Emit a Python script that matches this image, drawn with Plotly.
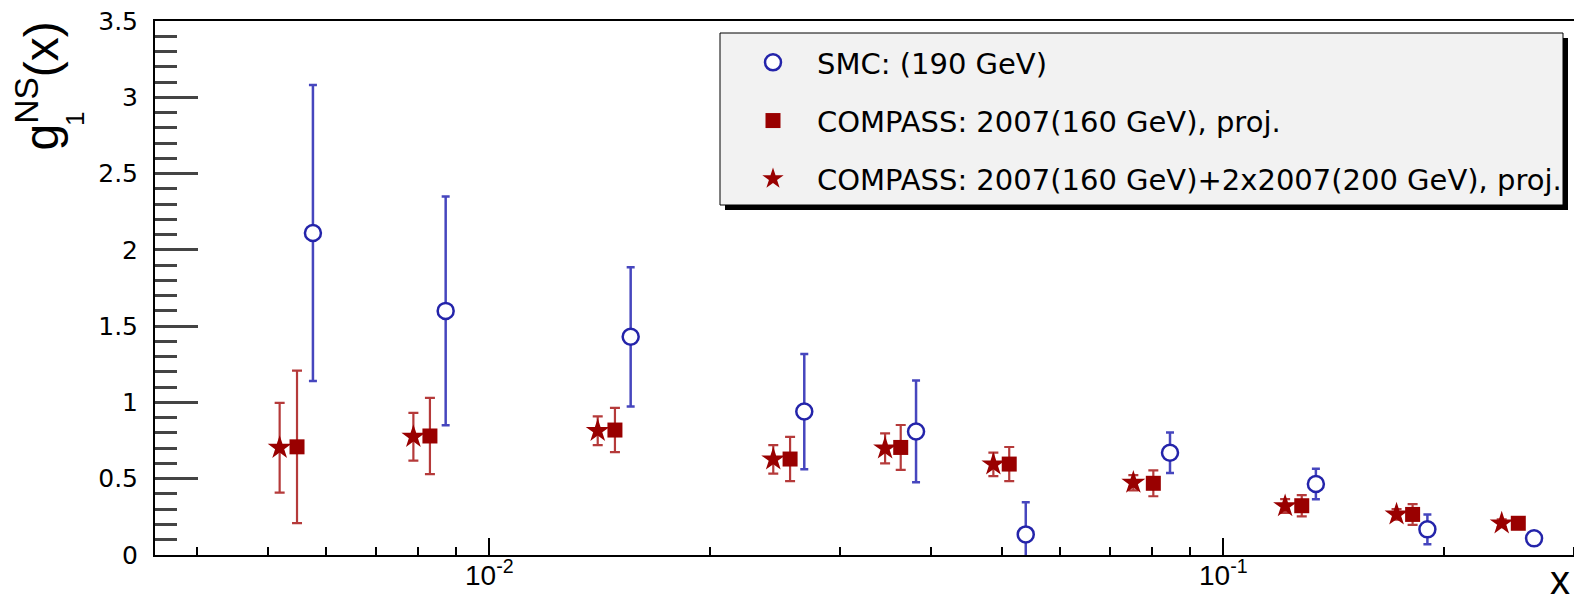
import plotly.graph_objects as go

# ---------------- data ----------------
smc_x = [0.00575, 0.00872, 0.01558, 0.02686, 0.03814, 0.05381, 0.0846, 0.1337, 0.1897, 0.2651]
smc_y = [2.11, 1.60, 1.43, 0.94, 0.81, 0.135, 0.67, 0.465, 0.168, 0.109]
smc_err = [0.97, 0.75, 0.456, 0.378, 0.333, 0.21, 0.133, 0.10, 0.098, 0.02]

c160_x = [0.00547, 0.0083, 0.01483, 0.02569, 0.03635, 0.05109, 0.08029, 0.1279, 0.1811, 0.2523]
c160_y = [0.709, 0.78, 0.819, 0.629, 0.705, 0.596, 0.47, 0.323, 0.266, 0.208]
c160_err = [0.50, 0.25, 0.145, 0.145, 0.147, 0.112, 0.085, 0.07, 0.068, 0.035]

comb_x = [0.00518, 0.00788, 0.01405, 0.02437, 0.03461, 0.04861, 0.07541, 0.1214, 0.1722, 0.2395]
comb_y = [0.703, 0.775, 0.814, 0.627, 0.699, 0.594, 0.474, 0.321, 0.266, 0.208]
comb_err = [0.294, 0.156, 0.094, 0.093, 0.098, 0.077, 0.05, 0.045, 0.035, 0.025]

names = ["SMC: (190 GeV)",
         "COMPASS: 2007(160 GeV), proj.",
         "COMPASS: 2007(160 GeV)+2x2007(200 GeV), proj."]

x_major = [0.01, 0.1]
x_major_text = ["10<sup>-2</sup>", "10<sup>-1</sup>"]
x_minor = [0.004, 0.005, 0.006, 0.007, 0.008, 0.009,
           0.02, 0.03, 0.04, 0.05, 0.06, 0.07, 0.08, 0.09, 0.2, 0.3]
y_major = [0, 0.5, 1, 1.5, 2, 2.5, 3, 3.5]
y_major_text = ["0", "0.5", "1", "1.5", "2", "2.5", "3", "3.5"]
y_minor = [round(0.1 * i, 1) for i in range(36) if i % 5 != 0]
Y_RANGE = [0, 3.5]

# ---------------- layout geometry ----------------
# the page body has an 8px margin, so the figure is drawn 8px right/down
OFF = 8
PAGE_W, PAGE_H = 1582, 605
FW, FH = PAGE_W - OFF, PAGE_H - OFF
X0, X1 = 155, 1582      # plot area, page pixels
Y0, Y1 = 21, 555
ML, MT = X0 - OFF, Y0 - OFF
MR = FW - (X1 - OFF)
MB = FH - (Y1 - OFF)


def px_x(px):
    return (px - X0) / (X1 - X0)


def px_y(py):
    return (Y1 - py) / (Y1 - Y0)


BLUE = "#2424aa"
BLUE_ERR = "#4646be"
RED = "#990000"
RED_ERR = "#b53a3a"
TICK = "#444444"

fig = go.Figure()

# SMC points live on the overlay axis y2 (identical fixed range) so that it
# is drawn and carries the short y ticks
fig.add_trace(go.Scatter(
    x=smc_x, y=smc_y, mode="markers", name=names[0], legendgroup="a", yaxis="y2",
    marker=dict(symbol="circle", size=16, color="white",
                line=dict(color=BLUE, width=2.5)),
    error_y=dict(type="data", array=smc_err, color=BLUE_ERR, thickness=2.5, width=4),
))
fig.add_trace(go.Scatter(
    x=c160_x, y=c160_y, mode="markers", name=names[1], legendgroup="b",
    marker=dict(symbol="square", size=15, color=RED, line=dict(width=0)),
    error_y=dict(type="data", array=c160_err, color=RED_ERR, thickness=2.2, width=5),
))
fig.add_trace(go.Scatter(
    x=comb_x, y=comb_y, mode="markers", name=names[2], legendgroup="c",
    marker=dict(symbol="star", size=18, color=RED, line=dict(width=0)),
    error_y=dict(type="data", array=comb_err, color=RED_ERR, thickness=2.2, width=5),
))

# legend box (shadow + box)
fig.add_shape(type="rect", xref="paper", yref="paper",
              x0=px_x(725), x1=px_x(1568), y0=px_y(38), y1=px_y(210),
              fillcolor="black", line=dict(width=0), layer="below")
fig.add_shape(type="rect", xref="paper", yref="paper",
              x0=px_x(720), x1=px_x(1563), y0=px_y(33), y1=px_y(205),
              fillcolor="#f2f2f2", line=dict(color="black", width=1), layer="below")

# y title
fig.add_annotation(xref="paper", yref="paper", x=px_x(37), y=px_y(20),
                   xanchor="center", yanchor="top", showarrow=False, textangle=-90,
                   text="g<sup>NS</sup>(x)",
                   font=dict(family="Liberation Sans", size=48, color="black"))
fig.add_annotation(xref="paper", yref="paper", x=px_x(75), y=px_y(119),
                   xanchor="center", yanchor="middle", showarrow=False, textangle=-90,
                   text="1", font=dict(family="Liberation Sans", size=26, color="black"))
# x title
fig.add_annotation(xref="paper", yref="paper", x=px_x(1572), y=px_y(604),
                   xanchor="right", yanchor="bottom", showarrow=False,
                   text="x", font=dict(family="Liberation Sans", size=40, color="black"))

fig.update_layout(
    width=FW, height=FH,
    margin=dict(l=ML, r=MR, t=MT, b=MB, pad=0),
    paper_bgcolor="white", plot_bgcolor="white",
    showlegend=True,
    legend=dict(x=px_x(729), y=px_y(37), xanchor="left", yanchor="top",
                bgcolor="rgba(0,0,0,0)", borderwidth=0,
                font=dict(family="DejaVu Sans", size=29, color="black"),
                traceorder="grouped", tracegroupgap=17.5, itemwidth=78),
    xaxis=dict(type="log", range=[-2.4555, -0.5113],
               showline=True, linecolor="black", linewidth=2, mirror=True,
               showgrid=False, zeroline=False,
               tickmode="array", tickvals=x_major, ticktext=x_major_text,
               ticks="inside", ticklen=17, tickwidth=2, tickcolor="black",
               ticklabelstandoff=-6, ticklabeloverflow="allow",
               tickfont=dict(family="Liberation Sans", size=28, color="black"),
               minor=dict(tickmode="array", tickvals=x_minor, ticks="inside",
                          ticklen=8, tickwidth=2, tickcolor="black", showgrid=False)),
    yaxis=dict(range=Y_RANGE,
               showline=True, linecolor="black", linewidth=2, mirror=False,
               showgrid=False, zeroline=False,
               tickmode="array", tickvals=y_major, ticktext=y_major_text,
               ticks="inside", ticklen=43, tickwidth=2.5, tickcolor=TICK,
               ticklabelstandoff=10, ticklabeloverflow="allow",
               tickfont=dict(family="DejaVu Sans", size=25, color="black")),
    # overlay axis carrying only the short (minor) y ticks
    yaxis2=dict(range=Y_RANGE, overlaying="y", anchor="x", side="left",
                showline=False, showgrid=False, zeroline=False,
                showticklabels=False,
                tickmode="array", tickvals=y_minor,
                ticks="inside", ticklen=22, tickwidth=2.5, tickcolor=TICK),
)

fig.write_html("out.html")
